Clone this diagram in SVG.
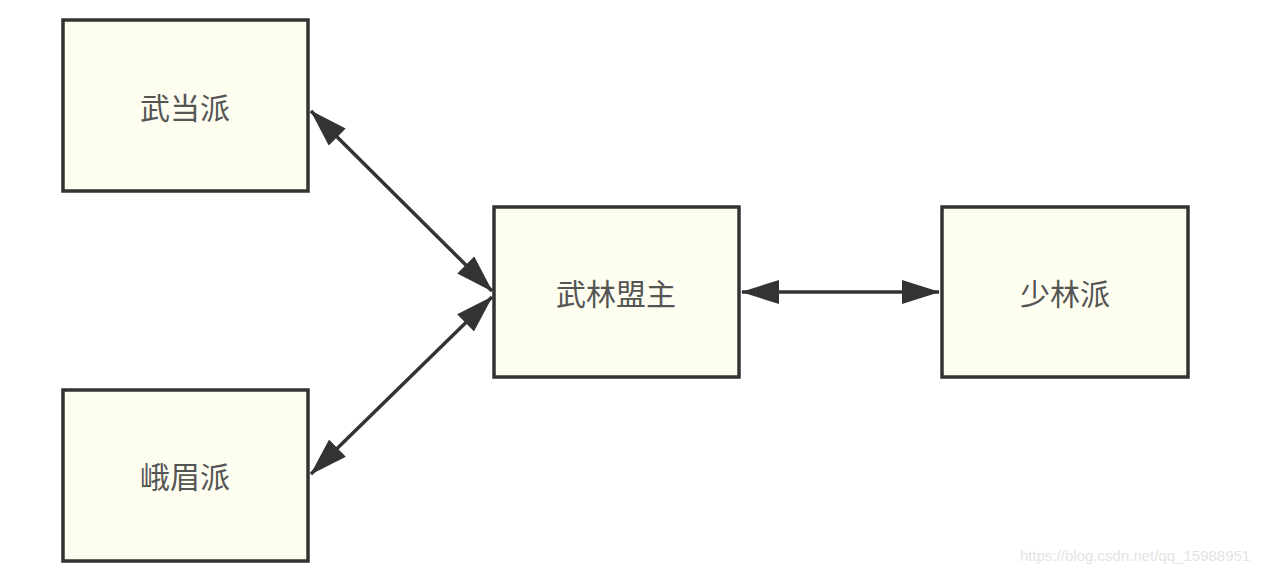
<svg xmlns="http://www.w3.org/2000/svg" width="1270" height="574" viewBox="0 0 1270 574">
<style>
.node rect{fill:#fefef0;stroke:#333;stroke-width:3.5}
.node text{font-family:"Noto Sans CJK SC","Noto Sans",sans-serif;font-size:30px;fill:#555;text-anchor:middle;dominant-baseline:central}
.edge{stroke:#333;stroke-width:3.5;fill:none;marker-start:url(#ah);marker-end:url(#ah)}
.wm{font-family:"Liberation Sans",Arial,sans-serif;font-size:15px;fill:#e4e4e4}
</style>
<defs>
<marker id="ah" viewBox="0 0 38 24" refX="37" refY="12" markerWidth="38" markerHeight="24" markerUnits="userSpaceOnUse" orient="auto-start-reverse">
<path d="M0,0 L38,12 L0,24 z" fill="#333"/>
</marker>
</defs>
<rect width="1270" height="574" fill="#fff"/>
<g id="connectors">
<line class="edge" x1="311" y1="111" x2="492" y2="291"/>
<line class="edge" x1="311" y1="474" x2="492" y2="297"/>
<line class="edge" x1="742" y1="292" x2="939" y2="292"/>
</g>
<g id="wudang" class="node"><rect x="63" y="20" width="245" height="171"/><text x="185" y="106">武当派</text></g>
<g id="emei" class="node"><rect x="63" y="390" width="245" height="171"/><text x="185" y="475">峨眉派</text></g>
<g id="mengzhu" class="node"><rect x="494" y="207" width="245" height="170"/><text x="616" y="292">武林盟主</text></g>
<g id="shaolin" class="node"><rect x="942" y="207" width="246" height="170"/><text x="1065" y="292">少林派</text></g>
<text class="wm" x="1020" y="561">https://blog.csdn.net/qq_15988951</text>
</svg>
